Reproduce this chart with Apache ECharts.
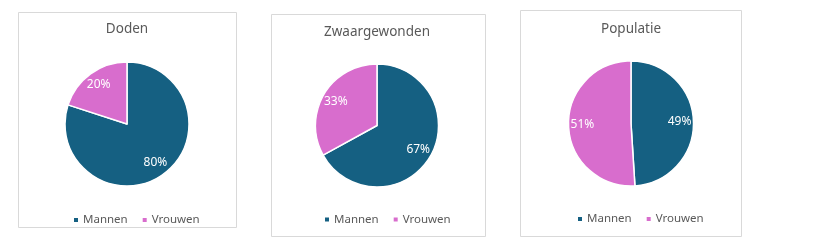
<!DOCTYPE html>
<html>
<head>
<meta charset="utf-8">
<script src="https://cdn.jsdelivr.net/npm/echarts@6/dist/echarts.min.js"></script>
<style>
html,body{margin:0;padding:0;background:#fff;}
#c{width:840px;height:252px;}
</style>
</head>
<body>
<div id="c"></div>
<script>
const categories = ['Mannen', 'Vrouwen'];
const chartTitles = ['Doden', 'Zwaargewonden', 'Populatie'];
const doden = [80, 20];
const zwaargewonden = [67, 33];
const populatie = [49, 51];

const seriesValues = [doden, zwaargewonden, populatie];
const colors = ['#156082', '#D86DCD'];
const FONT = '"Noto Sans", sans-serif';

// layout (pixels)
const panels = [
  {x: 18, y: 12, w: 218, h: 215, cx: 127, cy: 124, r: 62, ty: 29, ly: 220, ll: 72},
  {x: 271, y: 14, w: 214, h: 222, cx: 377, cy: 125.5, r: 61.5, ty: 32, ly: 219.5, ll: 323},
  {x: 520, y: 10, w: 221, h: 226, cx: 631, cy: 123.5, r: 62.5, ty: 29, ly: 219, ll: 576}
];

const graphics = [];
const legends = [];
const series = [];
panels.forEach((p, i) => {
  graphics.push({
    type: 'rect', z: -10, silent: true,
    shape: {x: p.x + 0.5, y: p.y + 0.5, width: p.w, height: p.h},
    style: {fill: '#fff', stroke: '#D9D9D9', lineWidth: 1}
  });
  graphics.push({
    type: 'text', silent: true,
    x: p.cx, y: p.ty,
    style: {text: chartTitles[i], fill: '#595959', font: '13.5px ' + FONT, textAlign: 'center', textVerticalAlign: 'middle'}
  });
  legends.push({
    data: categories,
    left: p.ll, top: p.ly - 6,
    orient: 'horizontal',
    icon: 'rect', itemWidth: 6, itemHeight: 6, itemGap: 13,
    textStyle: {color: '#595959', fontSize: 11.5, fontFamily: FONT, padding: [0, 0, 0, -1]},
    padding: 0
  });
  const data = categories.map((name, k) => ({name: name, value: seriesValues[i][k]}));
  series.push({
    type: 'pie',
    center: [p.cx, p.cy],
    radius: [0, p.r],
    startAngle: 90,
    clockwise: true,
    percentPrecision: 0,
    data: data,
    color: colors,
    itemStyle: {borderColor: '#fff', borderWidth: 1.5},
    label: {show: false},
    labelLine: {show: false},
    emphasis: {disabled: true},
    animation: false
  });
  // transparent overlay carrying the labels, placed at ~73% of radius
  series.push({
    type: 'pie',
    center: [p.cx, p.cy],
    radius: [p.r * 0.46, p.r],
    startAngle: 90,
    clockwise: true,
    percentPrecision: 0,
    data: data,
    color: colors,
    silent: true,
    itemStyle: {color: 'rgba(0,0,0,0)', borderWidth: 0},
    label: {show: true, position: 'inside', formatter: '{d}%', color: '#fff', fontSize: 12, fontFamily: FONT},
    labelLine: {show: false},
    emphasis: {disabled: true},
    animation: false
  });
});

const chart = echarts.init(document.getElementById('c'), null, {renderer: 'canvas'});
chart.setOption({
  backgroundColor: '#fff',
  animation: false,
  color: colors,
  legend: legends,
  graphic: graphics,
  series: series
});
</script>
</body>
</html>
